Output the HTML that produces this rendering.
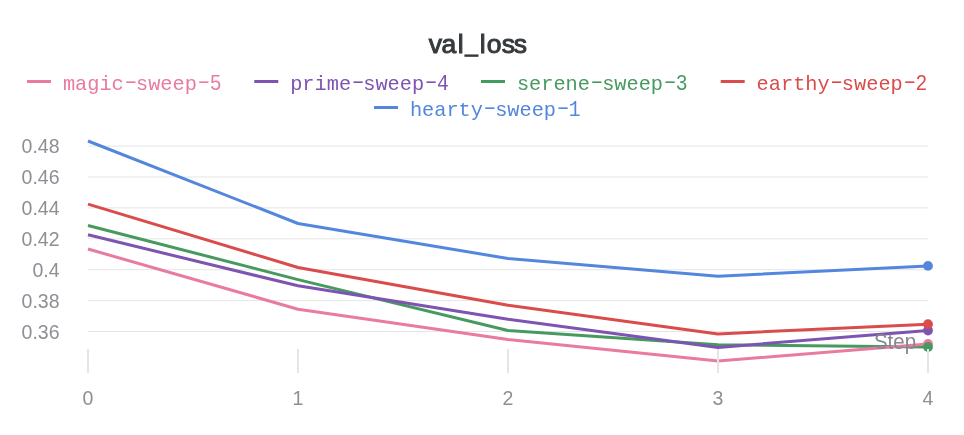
<!DOCTYPE html>
<html><head><meta charset="utf-8"><title>val_loss</title>
<style>
html,body{margin:0;padding:0;background:#fff;}
body{width:964px;height:435px;overflow:hidden;}
svg{display:block;}
.ax{font-family:"Liberation Sans",sans-serif;font-size:19.5px;fill:#8e8e96;}
.lg{font-family:"Liberation Mono",monospace;font-size:21px;}
.ttl{font-family:"Liberation Sans",sans-serif;font-size:26.5px;fill:#363a3d;stroke:#363a3d;stroke-width:1.0px;}
</style></head><body>
<svg width="964" height="435" viewBox="0 0 964 435">
<rect width="964" height="435" fill="#fff"/>
<text class="ttl" y="52.7" x="428.82 441.47 457.85">val<tspan x="465.29" dy="-1.1" style="font-size:22.5px">_</tspan><tspan x="479.65 486.68 501.68 513.68" dy="1.1">loss</tspan></text>
<rect x="27" y="80.0" width="24" height="3" fill="#E87B9F"/>
<text class="lg" y="89.5" fill="#E87B9F"><tspan x="62.90" dy="0" textLength="60.9" lengthAdjust="spacingAndGlyphs">magic</tspan><tspan x="120.69" dy="-1.4" textLength="20.2" lengthAdjust="spacingAndGlyphs">-</tspan><tspan x="135.98" dy="1.4" textLength="60.9" lengthAdjust="spacingAndGlyphs">sweep</tspan><tspan x="193.77" dy="-1.4" textLength="20.2" lengthAdjust="spacingAndGlyphs">-</tspan><tspan x="209.76" dy="1.4" style="font-size:22.8px" textLength="11.8" lengthAdjust="spacingAndGlyphs">5</tspan></text>
<rect x="254.3" y="80.0" width="24" height="3" fill="#7D54B2"/>
<text class="lg" y="89.5" fill="#7D54B2"><tspan x="290.20" dy="0" textLength="60.9" lengthAdjust="spacingAndGlyphs">prime</tspan><tspan x="347.99" dy="-1.4" textLength="20.2" lengthAdjust="spacingAndGlyphs">-</tspan><tspan x="363.28" dy="1.4" textLength="60.9" lengthAdjust="spacingAndGlyphs">sweep</tspan><tspan x="421.07" dy="-1.4" textLength="20.2" lengthAdjust="spacingAndGlyphs">-</tspan><tspan x="437.06" dy="1.4" style="font-size:22.8px" textLength="11.8" lengthAdjust="spacingAndGlyphs">4</tspan></text>
<rect x="481" y="80.0" width="24" height="3" fill="#479A5F"/>
<text class="lg" y="89.5" fill="#479A5F"><tspan x="516.90" dy="0" textLength="73.1" lengthAdjust="spacingAndGlyphs">serene</tspan><tspan x="586.87" dy="-1.4" textLength="20.2" lengthAdjust="spacingAndGlyphs">-</tspan><tspan x="602.16" dy="1.4" textLength="60.9" lengthAdjust="spacingAndGlyphs">sweep</tspan><tspan x="659.95" dy="-1.4" textLength="20.2" lengthAdjust="spacingAndGlyphs">-</tspan><tspan x="675.84" dy="1.4" style="font-size:22.8px" textLength="11.8" lengthAdjust="spacingAndGlyphs">3</tspan></text>
<rect x="720.7" y="80.0" width="24" height="3" fill="#DA4C4C"/>
<text class="lg" y="89.5" fill="#DA4C4C"><tspan x="756.60" dy="0" textLength="73.1" lengthAdjust="spacingAndGlyphs">earthy</tspan><tspan x="826.57" dy="-1.4" textLength="20.2" lengthAdjust="spacingAndGlyphs">-</tspan><tspan x="841.86" dy="1.4" textLength="60.9" lengthAdjust="spacingAndGlyphs">sweep</tspan><tspan x="899.65" dy="-1.4" textLength="20.2" lengthAdjust="spacingAndGlyphs">-</tspan><tspan x="915.54" dy="1.4" style="font-size:22.8px" textLength="11.8" lengthAdjust="spacingAndGlyphs">2</tspan></text>
<rect x="374" y="106.0" width="24" height="3" fill="#5387DD"/>
<text class="lg" y="115.8" fill="#5387DD"><tspan x="409.90" dy="0" textLength="73.1" lengthAdjust="spacingAndGlyphs">hearty</tspan><tspan x="479.87" dy="-1.4" textLength="20.2" lengthAdjust="spacingAndGlyphs">-</tspan><tspan x="495.16" dy="1.4" textLength="60.9" lengthAdjust="spacingAndGlyphs">sweep</tspan><tspan x="552.95" dy="-1.4" textLength="20.2" lengthAdjust="spacingAndGlyphs">-</tspan><tspan x="568.84" dy="1.4" style="font-size:22.8px" textLength="11.8" lengthAdjust="spacingAndGlyphs">1</tspan></text>
<rect x="88" y="145.60" width="840" height="1" fill="#e5e5e7"/>
<text class="ax" x="59.5" y="153.1" text-anchor="end">0.48</text>
<rect x="88" y="176.50" width="840" height="1" fill="#e5e5e7"/>
<text class="ax" x="59.5" y="184.0" text-anchor="end">0.46</text>
<rect x="88" y="207.40" width="840" height="1" fill="#e5e5e7"/>
<text class="ax" x="59.5" y="214.9" text-anchor="end">0.44</text>
<rect x="88" y="238.30" width="840" height="1" fill="#e5e5e7"/>
<text class="ax" x="59.5" y="245.8" text-anchor="end">0.42</text>
<rect x="88" y="269.20" width="840" height="1" fill="#e5e5e7"/>
<text class="ax" x="59.5" y="276.7" text-anchor="end">0.4</text>
<rect x="88" y="300.10" width="840" height="1" fill="#e5e5e7"/>
<text class="ax" x="59.5" y="307.6" text-anchor="end">0.38</text>
<rect x="88" y="331.00" width="840" height="1" fill="#e5e5e7"/>
<text class="ax" x="59.5" y="338.5" text-anchor="end">0.36</text>
<polyline points="88,141 298,223.5 508,258.5 718,276.2 928,265.9" fill="none" stroke="#5387DD" stroke-width="3" stroke-linejoin="round"/>
<polyline points="88,204.1 298,267.5 508,305.3 718,333.9 928,324.2" fill="none" stroke="#DA4C4C" stroke-width="3" stroke-linejoin="round"/>
<polyline points="88,225.5 298,279.6 508,330.5 718,344.7 928,347.0" fill="none" stroke="#479A5F" stroke-width="3" stroke-linejoin="round"/>
<polyline points="88,234.8 298,285.8 508,319.3 718,347.4 928,330.5" fill="none" stroke="#7D54B2" stroke-width="3" stroke-linejoin="round"/>
<polyline points="88,249 298,309.2 508,339.5 718,361.0 928,343.9" fill="none" stroke="#E87B9F" stroke-width="3" stroke-linejoin="round"/>
<circle cx="928" cy="343.9" r="4.9" fill="#E87B9F"/>
<circle cx="928" cy="330.5" r="4.9" fill="#7D54B2"/>
<circle cx="928" cy="347.0" r="4.9" fill="#479A5F"/>
<circle cx="928" cy="324.2" r="4.9" fill="#DA4C4C"/>
<circle cx="928" cy="265.9" r="4.9" fill="#5387DD"/>
<rect x="87" y="349" width="2" height="24" fill="#e5e5e8"/>
<text class="ax" x="88" y="405" text-anchor="middle">0</text>
<rect x="297" y="349" width="2" height="24" fill="#e5e5e8"/>
<text class="ax" x="298" y="405" text-anchor="middle">1</text>
<rect x="507" y="349" width="2" height="24" fill="#e5e5e8"/>
<text class="ax" x="508" y="405" text-anchor="middle">2</text>
<rect x="717" y="349" width="2" height="24" fill="#e5e5e8"/>
<text class="ax" x="718" y="405" text-anchor="middle">3</text>
<rect x="927" y="349" width="2" height="24" fill="#e5e5e8"/>
<text class="ax" x="928" y="405" text-anchor="middle">4</text>
<text class="ax" x="874" y="349.3" style="font-size:21.2px;fill:#87878f" textLength="42" lengthAdjust="spacingAndGlyphs">Step</text>
</svg></body></html>
